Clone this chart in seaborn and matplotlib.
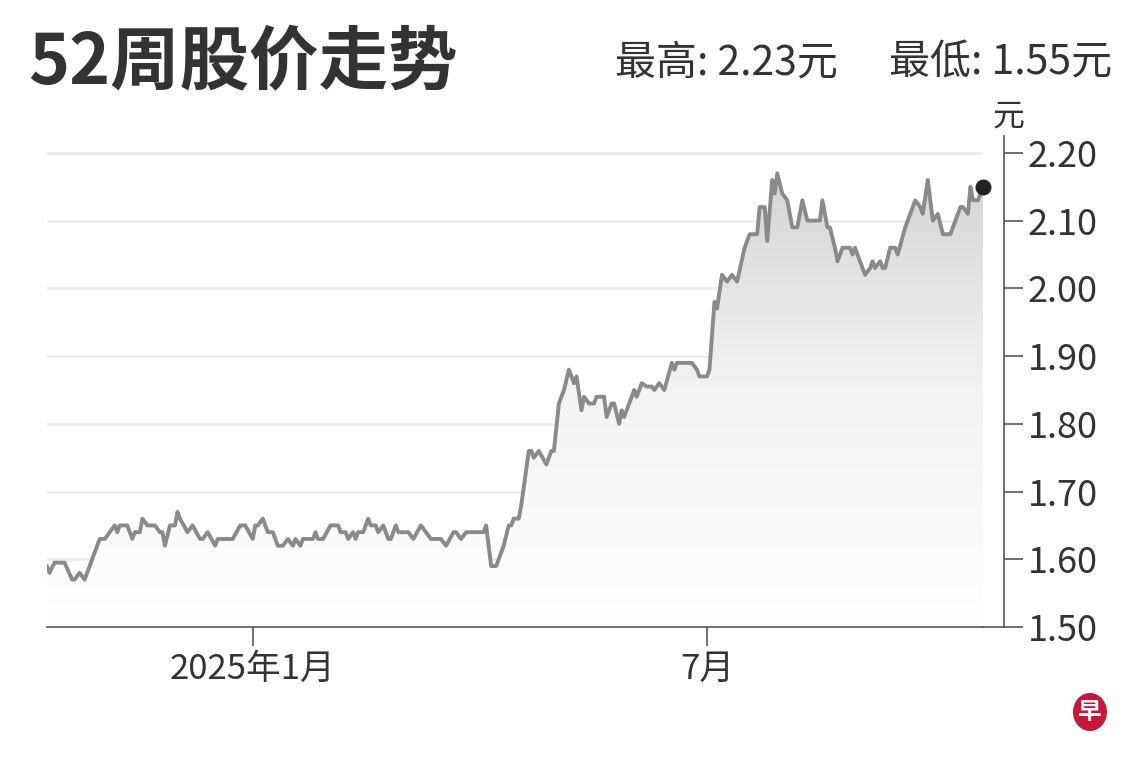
import matplotlib
matplotlib.use("Agg")
import matplotlib.pyplot as plt
import matplotlib.dates as mdates
from matplotlib.colors import LinearSegmentedColormap
from matplotlib.patches import Ellipse
import numpy as np
import pandas as pd
import seaborn as sns

# 52-week closing prices
dates = [
    "2024-10-11", "2024-10-12", "2024-10-14", "2024-10-18", "2024-10-21", "2024-10-22", "2024-10-24", "2024-10-26", "2024-10-30",
    "2024-11-01", "2024-11-03", "2024-11-07", "2024-11-08", "2024-11-09", "2024-11-12", "2024-11-14", "2024-11-15", "2024-11-17",
    "2024-11-18", "2024-11-20", "2024-11-23", "2024-11-25", "2024-11-26", "2024-11-27", "2024-11-29",
    "2024-12-01", "2024-12-02", "2024-12-03", "2024-12-06", "2024-12-08", "2024-12-11", "2024-12-12", "2024-12-14", "2024-12-17",
    "2024-12-18", "2024-12-24", "2024-12-27", "2024-12-29",
    "2025-01-01", "2025-01-02", "2025-01-03", "2025-01-05", "2025-01-07", "2025-01-09", "2025-01-11", "2025-01-13", "2025-01-15",
    "2025-01-17", "2025-01-18", "2025-01-20", "2025-01-21", "2025-01-25", "2025-01-26", "2025-01-27", "2025-01-29",
    "2025-02-01", "2025-02-04", "2025-02-05", "2025-02-07", "2025-02-08", "2025-02-10", "2025-02-11", "2025-02-12", "2025-02-14",
    "2025-02-16", "2025-02-17", "2025-02-19", "2025-02-20", "2025-02-22", "2025-02-24", "2025-02-25", "2025-02-27", "2025-02-28",
    "2025-03-04", "2025-03-06", "2025-03-09", "2025-03-11", "2025-03-13", "2025-03-17", "2025-03-19", "2025-03-22", "2025-03-23",
    "2025-03-25", "2025-03-27",
    "2025-04-03", "2025-04-04", "2025-04-06", "2025-04-08", "2025-04-10", "2025-04-11", "2025-04-13", "2025-04-14", "2025-04-15",
    "2025-04-17", "2025-04-18", "2025-04-21", "2025-04-22", "2025-04-23", "2025-04-25", "2025-04-28", "2025-04-30",
    "2025-05-01", "2025-05-03", "2025-05-05", "2025-05-07", "2025-05-09", "2025-05-10", "2025-05-12", "2025-05-13", "2025-05-15",
    "2025-05-17", "2025-05-18", "2025-05-21", "2025-05-22", "2025-05-24", "2025-05-25", "2025-05-27", "2025-05-28", "2025-05-29",
    "2025-06-02", "2025-06-03", "2025-06-05", "2025-06-07", "2025-06-09", "2025-06-10", "2025-06-12", "2025-06-14", "2025-06-17",
    "2025-06-18", "2025-06-19", "2025-06-25", "2025-06-27", "2025-06-28",
    "2025-07-01", "2025-07-02", "2025-07-04", "2025-07-05", "2025-07-07", "2025-07-09", "2025-07-11", "2025-07-13", "2025-07-16",
    "2025-07-18", "2025-07-21", "2025-07-22", "2025-07-24", "2025-07-25", "2025-07-27", "2025-07-28", "2025-07-29", "2025-07-31",
    "2025-08-02", "2025-08-04", "2025-08-06", "2025-08-08", "2025-08-10", "2025-08-11", "2025-08-15", "2025-08-16", "2025-08-18",
    "2025-08-19", "2025-08-21", "2025-08-22", "2025-08-24", "2025-08-27", "2025-08-28", "2025-08-29", "2025-08-31",
    "2025-09-02", "2025-09-04", "2025-09-05", "2025-09-06", "2025-09-08", "2025-09-09", "2025-09-10", "2025-09-12", "2025-09-14",
    "2025-09-15", "2025-09-18", "2025-09-20", "2025-09-22", "2025-09-24", "2025-09-25", "2025-09-27", "2025-09-28", "2025-09-29",
    "2025-10-01", "2025-10-03", "2025-10-06", "2025-10-08", "2025-10-10", "2025-10-11", "2025-10-13", "2025-10-14", "2025-10-15",
    "2025-10-17", "2025-10-18", "2025-10-19",
]
prices = [
    1.59, 1.58, 1.595, 1.595, 1.57, 1.57, 1.58, 1.57, 1.61,
    1.63, 1.63, 1.65, 1.64, 1.65, 1.65, 1.63, 1.64, 1.64,
    1.66, 1.65, 1.65, 1.64, 1.64, 1.62, 1.65,
    1.65, 1.67, 1.66, 1.64, 1.65, 1.63, 1.63, 1.64, 1.62,
    1.63, 1.63, 1.65, 1.65,
    1.63, 1.65, 1.65, 1.66, 1.64, 1.64, 1.62, 1.62, 1.63,
    1.62, 1.63, 1.62, 1.63, 1.63, 1.64, 1.63, 1.63,
    1.65, 1.65, 1.64, 1.64, 1.63, 1.64, 1.63, 1.64, 1.64,
    1.66, 1.65, 1.65, 1.64, 1.65, 1.63, 1.63, 1.65, 1.64,
    1.64, 1.63, 1.65, 1.64, 1.63, 1.63, 1.62, 1.64, 1.64,
    1.63, 1.64,
    1.64, 1.65, 1.59, 1.59, 1.61, 1.62, 1.65, 1.65, 1.66,
    1.66, 1.68, 1.76, 1.76, 1.75, 1.76, 1.74, 1.76,
    1.76, 1.83, 1.85, 1.88, 1.86, 1.87, 1.82, 1.84, 1.83,
    1.83, 1.84, 1.84, 1.81, 1.83, 1.83, 1.80, 1.82, 1.81,
    1.85, 1.84, 1.86, 1.855, 1.855, 1.85, 1.86, 1.85, 1.89,
    1.88, 1.89, 1.89, 1.88, 1.87,
    1.87, 1.88, 1.98, 1.97, 2.02, 2.01, 2.02, 2.01, 2.06,
    2.08, 2.08, 2.12, 2.12, 2.07, 2.16, 2.14, 2.17, 2.14,
    2.13, 2.09, 2.09, 2.13, 2.10, 2.10, 2.10, 2.13, 2.09,
    2.09, 2.06, 2.04, 2.06, 2.06, 2.05, 2.06, 2.04,
    2.02, 2.03, 2.04, 2.03, 2.04, 2.03, 2.03, 2.06, 2.06,
    2.05, 2.09, 2.11, 2.13, 2.12, 2.11, 2.16, 2.13, 2.10,
    2.11, 2.08, 2.08, 2.10, 2.12, 2.12, 2.11, 2.15, 2.13,
    2.13, 2.14, 2.15,
]

y_ticks = [1.50, 1.60, 1.70, 1.80, 1.90, 2.00, 2.10, 2.20]
x_ticks = ["2025-01-01", "2025-07-01"]
x_tick_labels = ["2025年1月", "7月"]
title = "52周股价走势"
high_text = "最高: 2.23元"
low_text = "最低: 1.55元"
unit = "元"

df = pd.DataFrame({"date": pd.to_datetime(dates), "price": prices})

sns.set_theme(style="white")
plt.rcParams["font.family"] = ["Noto Sans CJK SC", "DejaVu Sans"]

W, H = 1140, 760
fig = plt.figure(figsize=(W / 100, H / 100), dpi=100)
fig.patch.set_facecolor("white")
ax = fig.add_axes([47 / W, 133 / H, (983 - 47) / W, (627 - 136) / H])
ax.set_facecolor("white")

sns.lineplot(data=df, x="date", y="price", ax=ax, color="#8a8a8a", linewidth=2.8, zorder=3)

# grey gradient under the line
x0 = mdates.date2num(df["date"].iloc[0])
x1 = mdates.date2num(df["date"].iloc[-1])
grad = np.linspace(0, 1, 256).reshape(-1, 1)
cmap = LinearSegmentedColormap.from_list("fade", ["#ffffff", "#f3f3f3", "#d2d2d2"])
img = ax.imshow(grad, extent=[x0, x1, 1.5, 2.2], origin="lower", aspect="auto", cmap=cmap, zorder=1)
poly = ax.fill_between(df["date"], df["price"], 1.5, facecolor="none", edgecolor="none")
img.set_clip_path(poly.get_paths()[0], transform=ax.transData)

# last price dot
last = df.iloc[[-1]]
ax.plot(last["date"], last["price"], "o", color="#222222", markersize=10.5, zorder=5, clip_on=False)

ax.set_xlim(df["date"].iloc[0], df["date"].iloc[-1])
ax.set_ylim(1.5, 2.225)

ax.set_yticks(y_ticks)
ax.set_yticklabels([f"{v:.2f}" for v in y_ticks])
ax.yaxis.tick_right()
ax.yaxis.grid(True, color="#ebebeb", linewidth=1.8)
ax.set_axisbelow(True)
ax.set_xticks(pd.to_datetime(x_ticks))
ax.set_xticklabels(x_tick_labels)
ax.set_xlabel("")
ax.set_ylabel("")

for side in ["left", "top"]:
    ax.spines[side].set_visible(False)
ax.spines["right"].set_position(("outward", 15))
ax.spines["right"].set_color("#555555")
ax.spines["right"].set_linewidth(1.2)
ax.spines["bottom"].set_color("#555555")
ax.spines["bottom"].set_linewidth(1.2)
ax.plot([1, 1 + 21 / 936], [0, 0], transform=ax.transAxes, color="#555555", linewidth=1.2, clip_on=False)

ax.tick_params(axis="y", which="major", right=True, left=False, direction="out", length=14, width=1.2,
               color="#555555", labelsize=26, labelcolor="#333333", pad=3)
ax.tick_params(axis="x", which="major", bottom=True, direction="out", length=14, width=1.2,
               color="#555555", labelsize=25, labelcolor="#333333", pad=4)

fig.text(28 / W, 1 - 63 / H, title, fontsize=50, fontweight="bold", color="#333333", va="center", ha="left")
fig.text(838 / W, 1 - 63 / H, high_text, fontsize=29.5, color="#333333", va="center", ha="right")
fig.text(1112 / W, 1 - 63 / H, low_text, fontsize=29.5, color="#333333", va="center", ha="right")
fig.text(1008 / W, 1 - 117 / H, unit, fontsize=23, color="#333333", va="center", ha="center")

# small logo mark
fig.patches.append(Ellipse((1090 / W, 1 - 712 / H), 34 / W, 38 / H, transform=fig.transFigure,
                           facecolor="#c8173c", edgecolor="none"))
fig.text(1090 / W, 1 - 712 / H, "早", fontsize=17, fontweight="bold", color="white", va="center", ha="center")

fig.savefig("out.png", dpi=100, facecolor="white")
